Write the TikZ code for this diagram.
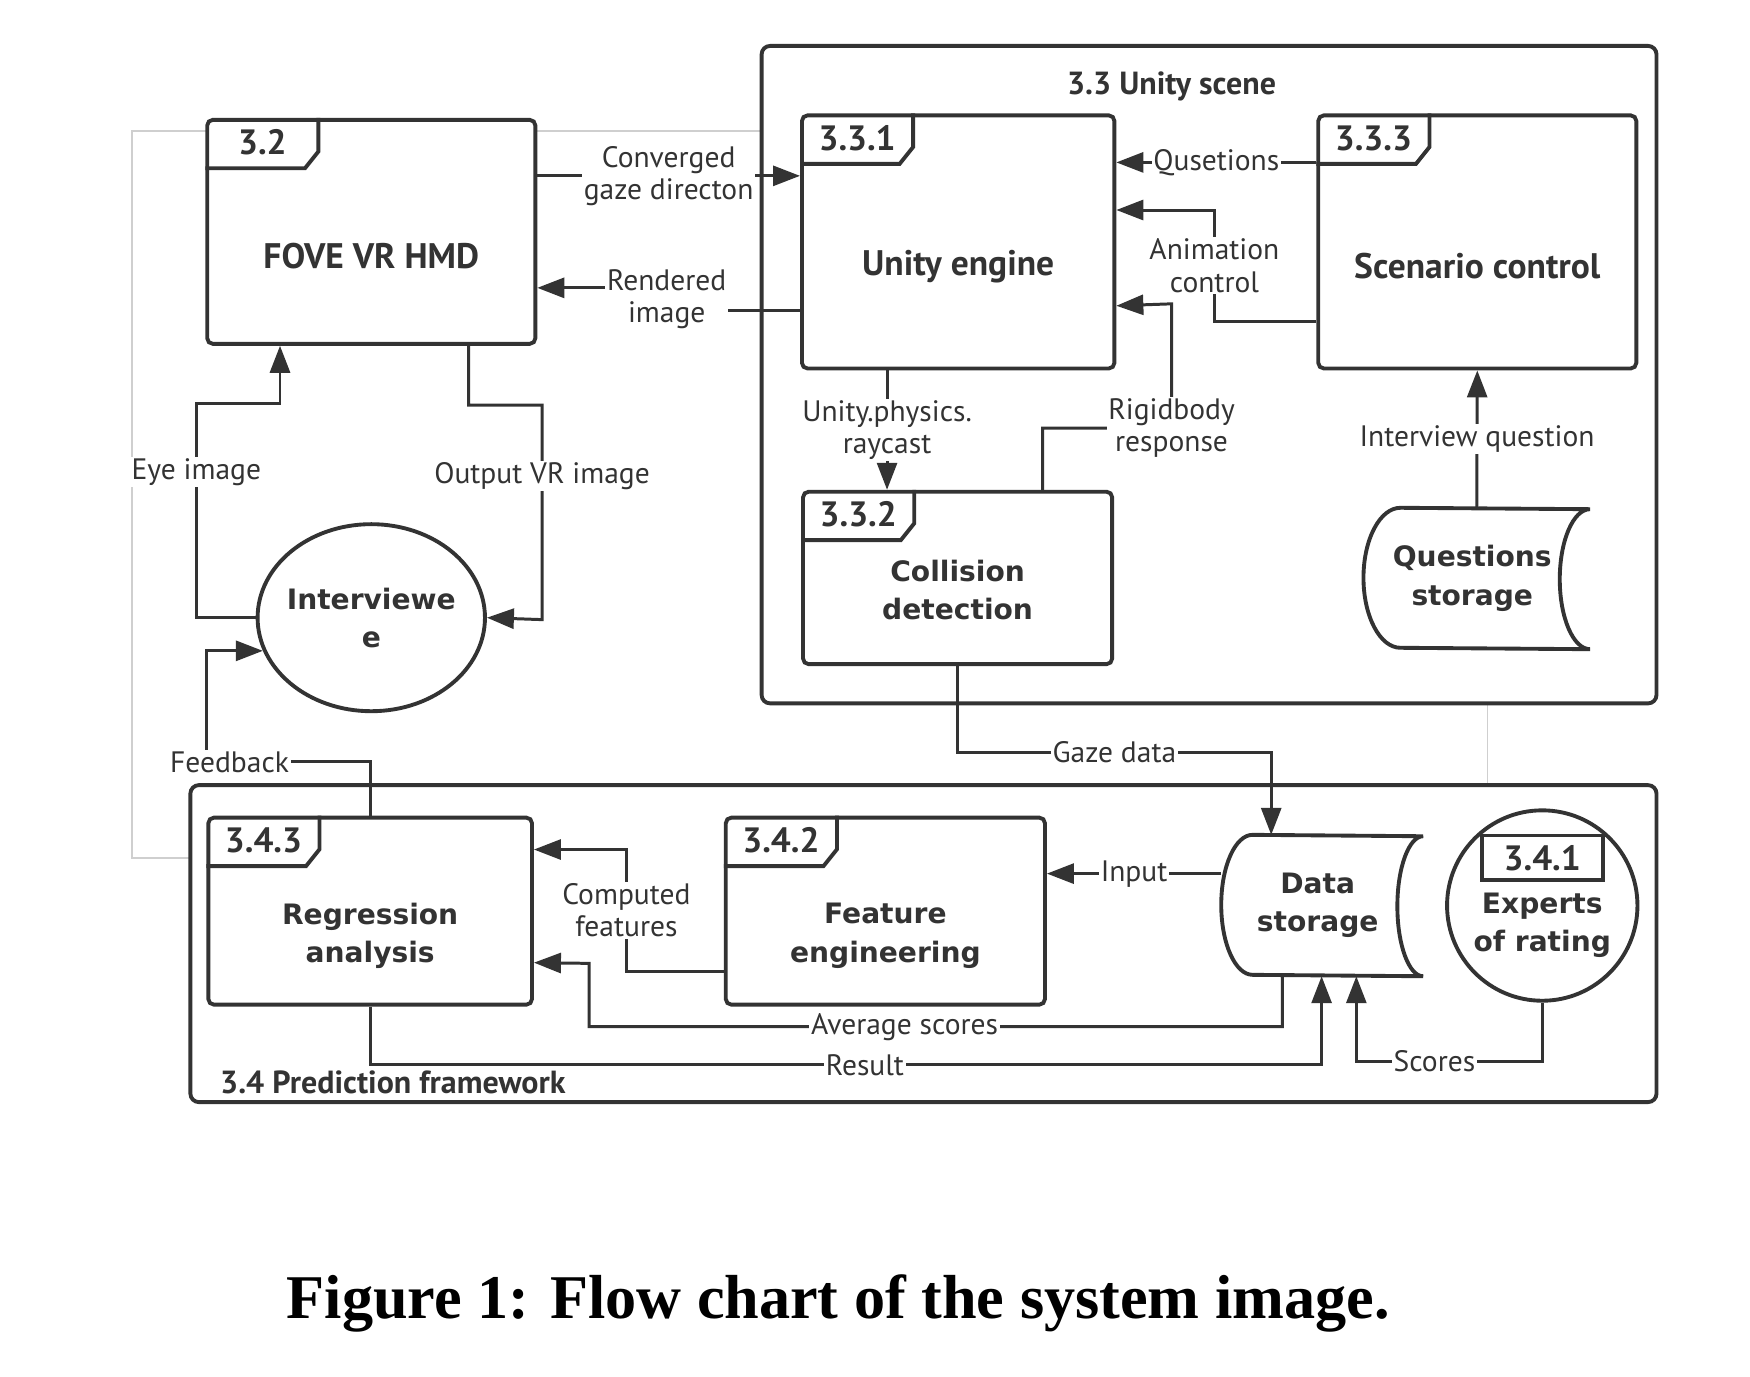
\documentclass[tikz,border=0pt]{standalone}
\usepackage{fontspec}
\setmainfont{PT Sans}
\newfontfamily\widefont{DejaVu Sans}
\newfontfamily\capfont{Liberation Serif}
\usetikzlibrary{arrows.meta,calc,shapes.geometric}
\definecolor{ink}{HTML}{333333}
\definecolor{rim}{HTML}{CFCFCF}
\newcommand{\px}{0.112mm}

\begin{document}
\begin{tikzpicture}[x=\px,y=-\px,>={Triangle[length=2.7mm,width=2mm]},
  boxline/.style={draw=ink,line width=1.1pt},
  box/.style={boxline,fill=white,rounded corners=1.6pt,inner sep=0pt},
  groupbox/.style={boxline,fill=white,rounded corners=2.4pt,inner sep=0pt},
  rimline/.style={draw=rim,line width=0.5pt,inner sep=0pt},
  boxname/.style={font=\bfseries\fontsize{10.1}{11}\selectfont,text=ink,align=center},
  widetext/.style={font=\widefont\bfseries\fontsize{8}{10.9}\selectfont,text=ink,align=center},
  tabtext/.style={font=\bfseries\fontsize{10}{11}\selectfont,text=ink},
  ttl/.style={font=\bfseries\fontsize{9.1}{10}\selectfont,text=ink,inner sep=0pt},
  lbl/.style={font=\fontsize{8.4}{9.2}\selectfont,text=ink,fill=white,inner sep=0.5pt,align=center},
  flow/.style={draw=ink,line width=0.85pt,->}]

  \path[use as bounding box,fill=white] (0,0) rectangle (1562.5,1228.6);

  % frames
  \node[rimline,minimum width=1210*\px,minimum height=649*\px] (rim) at (723,441.5) {};
  \node[groupbox,minimum width=799*\px,minimum height=587*\px] (scene) at (1079.5,334.5) {};
  \node[groupbox,minimum width=1309*\px,minimum height=283*\px] (pred) at (824.5,842.5) {};
  \node[ttl] (scene-t) at (1046,77) {3.3 Unity scene};
  \node[ttl,anchor=west] (pred-t) at (196,966) {3.4 Prediction framework};

  % processes
  \node[box,minimum width=293*\px,minimum height=200*\px,label={[boxname,yshift=-22*\px]center:FOVE VR HMD}] (hmd) at (331.5,207) {};
  \node[box,minimum width=279*\px,minimum height=226*\px,label={[boxname,yshift=-22*\px]center:Unity engine}] (engine) at (855.5,216) {};
  \node[box,minimum width=284*\px,minimum height=226*\px,label={[boxname,yshift=-22*\px]center:Scenario control}] (scen) at (1319,216) {};
  \node[box,minimum width=276*\px,minimum height=154*\px,label={[widetext,yshift=-11*\px]center:{Collision\\detection}}] (coll) at (855,516) {};
  \node[box,minimum width=289*\px,minimum height=167*\px,label={[widetext,yshift=-22*\px]center:{Regression\\analysis}}] (regr) at (330.5,813.5) {};
  \node[box,minimum width=285*\px,minimum height=167*\px,label={[widetext,yshift=-22*\px]center:{Feature\\engineering}}] (feat) at (790.5,813.5) {};
  \foreach \n/\lab in {hmd/3.2,engine/3.3.1,scen/3.3.3,coll/3.3.2,regr/3.4.3,feat/3.4.2}{
    \draw[boxline] ($(\n.north west)+(0,45)$) -- ++(89,0) -- ++(12,-15) -- ++(0,-30);
    \node[tabtext] (\n-tab) at ($(\n.north west)+(51,22)$) {\lab};
  }

  % entities
  \node[box,ellipse,minimum width=203*\px,minimum height=167*\px,label={[widetext]center:{Interviewe\\e}}] (intv) at (331.5,551.5) {};
  \node[box,circle,minimum size=170*\px] (expert) at (1377,808.5) {};
  \node[boxline,tabtext,minimum width=108*\px,minimum height=40*\px,inner sep=0pt] (expert-id) at (1377,766) {3.4.1};
  \node[widetext] (expert-t) at (1377,826) {Experts\\of rating};

  % stores
  \node[minimum width=201*\px,minimum height=125*\px,inner sep=0pt,label={[widetext,xshift=-4*\px]center:{Questions\\storage}}] (qstore) at (1318.5,516.5) {};
  \node[minimum width=179*\px,minimum height=125*\px,inner sep=0pt,label={[widetext,xshift=-4*\px]center:{Data\\storage}}] (dstore) at (1180.5,808.5) {};
  \foreach \s/\r/\q in {qstore/33/27,dstore/28/23}{
    \draw[boxline] ($(\s.north west)+(\r,0)$) arc[start angle=90,end angle=270,x radius=\r*\px,y radius=62.5*\px]
      -- (\s.south east) arc[start angle=270,end angle=90,x radius=\q*\px,y radius=62.5*\px] -- cycle;
  }

  % flows
  \draw[flow] (hmd.east |- 0,157) -- (engine.west |- 0,157) node[lbl,midway] (conv) {Converged\\gaze directon};
  \draw[flow] (engine.west |- 0,277) -- ++(-119,0) -- ++(0,-20) node[lbl,midway] (rend) {Rendered\\image} -- (hmd.east |- 0,257);
  \draw[flow] (intv.west) -- ++(-53,0) -- ++(0,-191.5) node[lbl,pos=0.68] (eye) {Eye image} -| (hmd.south -| 250,0);
  \draw[flow] (hmd.south -| 418.5,0) -- ++(0,53) -- ++(65.5,0) -- ++(0,191.5) node[lbl,pos=0.33] (outvr) {Output VR image} -- (intv.east);
  \draw[flow] (regr.north) -- ++(0,-48) -- ++(-146,0) node[lbl,pos=0.86] (fb) {Feedback} |- (intv.197);
  \draw[flow] (scen.west |- 0,145) -- (engine.east |- 0,145) node[lbl,midway] (qus) {Qusetions};
  \draw[flow] (scen.west |- 0,287) -- ++(-91,0) -- ++(0,-99.5) node[lbl,midway] (anim) {Animation\\control} -- (engine.east |- 0,187.5);
  \draw[flow] (coll.north -| 931,0) -- ++(0,-55) -- ++(115,0) node[lbl,pos=1] (rigid) {Rigidbody\\response} -- ++(0,-111) -- (engine.east |- 0,273);
  \draw[flow] (engine.south -| 792,0) -- (coll.north -| 792,0) node[lbl,midway] (ray) {Unity.physics.\\raycast};
  \draw[flow] (qstore.north) -- (scen.south) node[lbl,midway] (iq) {Interview question};
  \draw[flow] (coll.south) -- ++(0,77) -| (dstore.north -| 1135,0) node[lbl,pos=0.25] (gaze) {Gaze data};
  \draw[flow] (dstore.west |- 0,780) -- (feat.east |- 0,780) node[lbl,midway] (inp) {Input};
  \draw[flow] (feat.west |- 0,867) -- ++(-87,0) -- ++(0,-108.5) node[lbl,midway] (comp) {Computed\\features} -- (regr.east |- 0,758.5);
  \draw[flow] (dstore.south -| 1145,0) -- ++(0,45) -- ++(-619,0) node[lbl,pos=0.545] (avg) {Average scores} -- ++(0,-56.5) -- (regr.east |- 0,859.5);
  \draw[flow] (regr.south) -- ++(0,52) -| (dstore.south -| 1180,0) node[lbl,pos=0.26] (res) {Result};
  \draw[flow] (expert.south) -- ++(0,52.5) -| (dstore.south -| 1211,0) node[lbl,pos=0.29] (sc) {Scores};

  \node[font=\capfont\bfseries\fontsize{17.7}{20}\selectfont,anchor=base] (caption) at (748.5,1177) {Figure 1: Flow chart of the system image.};
\end{tikzpicture}
\end{document}
